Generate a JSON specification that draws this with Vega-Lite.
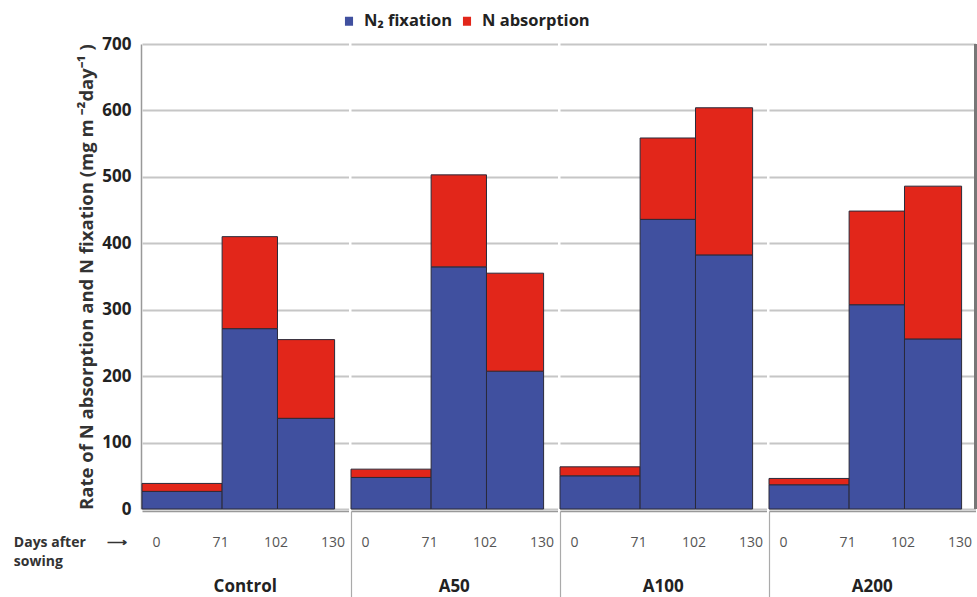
{
  "$schema": "https://vega.github.io/schema/vega-lite/v6.json",
  "background": "white",
  "padding": {"left": 13, "top": 12, "right": 3, "bottom": 0},
  "title": {
    "text": ["Days after\u2003\u2002⟶", "sowing"],
    "orient": "bottom",
    "anchor": "start",
    "frame": "bounds",
    "font": "Open Sans",
    "fontSize": 14,
    "fontWeight": "bold",
    "color": "#333",
    "lineHeight": 19,
    "dx": -64,
    "dy": -68
  },
  "data": {
    "values": [
      {"group": "Control", "start": 0, "end": 71, "type": "N₂ fixation", "value": 26.5},
      {"group": "Control", "start": 0, "end": 71, "type": "N absorption", "value": 12},
      {"group": "Control", "start": 71, "end": 102, "type": "N₂ fixation", "value": 271.5},
      {"group": "Control", "start": 71, "end": 102, "type": "N absorption", "value": 138.5},
      {"group": "Control", "start": 102, "end": 130, "type": "N₂ fixation", "value": 136.5},
      {"group": "Control", "start": 102, "end": 130, "type": "N absorption", "value": 118.5},
      {"group": "A50", "start": 0, "end": 71, "type": "N₂ fixation", "value": 47.5},
      {"group": "A50", "start": 0, "end": 71, "type": "N absorption", "value": 12.5},
      {"group": "A50", "start": 71, "end": 102, "type": "N₂ fixation", "value": 364.5},
      {"group": "A50", "start": 71, "end": 102, "type": "N absorption", "value": 138.5},
      {"group": "A50", "start": 102, "end": 130, "type": "N₂ fixation", "value": 207.5},
      {"group": "A50", "start": 102, "end": 130, "type": "N absorption", "value": 147.5},
      {"group": "A100", "start": 0, "end": 71, "type": "N₂ fixation", "value": 50},
      {"group": "A100", "start": 0, "end": 71, "type": "N absorption", "value": 13.5},
      {"group": "A100", "start": 71, "end": 102, "type": "N₂ fixation", "value": 436},
      {"group": "A100", "start": 71, "end": 102, "type": "N absorption", "value": 122.5},
      {"group": "A100", "start": 102, "end": 130, "type": "N₂ fixation", "value": 382.5},
      {"group": "A100", "start": 102, "end": 130, "type": "N absorption", "value": 221.5},
      {"group": "A200", "start": 0, "end": 71, "type": "N₂ fixation", "value": 36.5},
      {"group": "A200", "start": 0, "end": 71, "type": "N absorption", "value": 9.5},
      {"group": "A200", "start": 71, "end": 102, "type": "N₂ fixation", "value": 307.5},
      {"group": "A200", "start": 71, "end": 102, "type": "N absorption", "value": 141},
      {"group": "A200", "start": 102, "end": 130, "type": "N₂ fixation", "value": 256},
      {"group": "A200", "start": 102, "end": 130, "type": "N absorption", "value": 230}
    ]
  },
  "facet": {
    "column": {
      "field": "group",
      "type": "nominal",
      "sort": ["Control", "A50", "A100", "A200"],
      "header": {
        "title": null,
        "labelOrient": "bottom",
        "labelFont": "Open Sans",
        "labelFontSize": 17,
        "labelFontWeight": "bold",
        "labelColor": "#222",
        "labelPadding": -21
      }
    }
  },
  "spacing": 0,
  "spec": {
    "width": 206.5,
    "height": 465,
    "layer": [
      {
        "transform": [
          {"stack": "value", "groupby": ["group", "start"], "sort": [{"field": "type", "order": "descending"}], "as": ["v0", "v1"]}
        ],
        "mark": {"type": "bar", "stroke": "#2a2a3a", "strokeWidth": 1},
        "encoding": {
          "x": {
            "field": "start",
            "type": "quantitative",
            "scale": {"type": "pow", "exponent": 1.45, "domain": [0, 136.4], "nice": false, "zero": false},
            "axis": {
              "title": null,
              "values": [0, 71, 102, 130],
              "grid": false,
              "ticks": true,
              "tickSize": 88,
              "tickWidth": 1.2,
              "tickColor": {"condition": {"test": "datum.value === 0 && !(parent && parent.group === 'Control')", "value": "#aaa"}, "value": "transparent"},
              "labelFlush": false,
              "labelOffset": {"condition": {"test": "datum.value === 0", "value": 14}, "value": -2},
              "labelPadding": -64,
              "labelFont": "Open Sans",
              "labelFontSize": 14,
              "labelColor": "#555",
              "domainColor": "#999",
              "domainWidth": 1.5
            }
          },
          "x2": {"field": "end"},
          "y": {
            "field": "v0",
            "type": "quantitative",
            "scale": {"domain": [0, 700], "nice": false},
            "axis": {
              "values": [0, 100, 200, 300, 400, 500, 600, 700],
              "title": "Rate of N absorption and N fixation (mg m  ⁻²day⁻¹ )",
              "titleFont": "Open Sans",
              "titleFontSize": 18.5,
              "titleFontWeight": "bold",
              "titleColor": "#333",
              "titlePadding": 5,
              "labelFont": "Open Sans",
              "labelFontSize": 17,
              "labelFontWeight": "bold",
              "labelColor": "#222",
              "labelPadding": 10,
              "ticks": false,
              "tickSize": 0,
              "domainColor": "#999",
              "domainWidth": 1.5,
              "gridColor": "#c6c6c6",
              "gridWidth": 1.8
            }
          },
          "y2": {"field": "v1"},
          "color": {
            "field": "type",
            "type": "nominal",
            "scale": {"domain": ["N₂ fixation", "N absorption"], "range": ["#40509F", "#E2261A"]},
            "legend": {
              "title": null,
              "orient": "none",
              "direction": "horizontal",
              "legendX": 198,
              "legendY": -32,
              "symbolType": "M-0.45,-0.5H0.45V0.5H-0.45Z",
              "symbolSize": 324,
              "symbolStrokeWidth": 0,
              "labelFont": "Open Sans",
              "labelFontSize": 16.5,
              "labelFontWeight": "bold",
              "labelColor": "#222",
              "labelOffset": 6,
              "columnPadding": 5
            }
          }
        }
      },
      {
        "transform": [{"filter": "datum.group === 'A200' && datum.start === 0 && datum.type === 'N absorption'"}],
        "mark": {"type": "rule", "color": "#777", "strokeWidth": 3, "clip": false},
        "encoding": {"x": {"datum": 136.4}, "y": {"datum": 0}, "y2": {"datum": 700}}
      }
    ]
  },
  "config": {
    "view": {"stroke": null}
  }
}
